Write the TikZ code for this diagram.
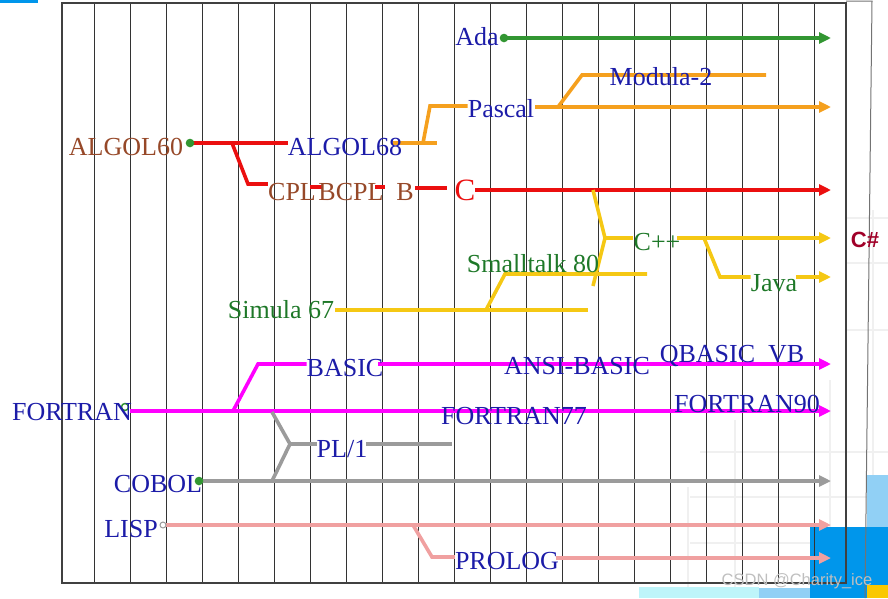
\documentclass[tikz,border=0pt]{standalone}
\usepackage{fontspec}
\setmainfont{Liberation Serif}
\newfontfamily\sansfnt{Liberation Sans}
\usetikzlibrary{arrows.meta}
\pgfdeclarelayer{deco}
\pgfdeclarelayer{lines}
\pgfsetlayers{deco,lines,main}
\definecolor{tblue}{RGB}{28,28,168}
\definecolor{tbrown}{RGB}{150,72,40}
\definecolor{tgreen}{RGB}{30,120,40}
\definecolor{lgreen}{RGB}{50,150,50}
\definecolor{lorange}{RGB}{245,160,30}
\definecolor{lred}{RGB}{235,15,15}
\definecolor{lyellow}{RGB}{245,200,20}
\definecolor{lmagenta}{RGB}{255,0,255}
\definecolor{lgrey}{RGB}{155,155,155}
\definecolor{lpink}{RGB}{240,160,160}
\definecolor{csharp}{RGB}{160,0,40}
\definecolor{bgA}{RGB}{0,150,235}
\definecolor{bgB}{RGB}{145,208,245}
\definecolor{bgC}{RGB}{190,245,250}
\definecolor{bgY}{RGB}{250,200,0}
\begin{document}
\begin{tikzpicture}[x=1pt,y=-1pt,
  lbl/.style={inner sep=0pt, anchor=base, font=\fontsize{26}{30}\selectfont},
  ln/.style={line width=3.6pt},
  arr/.style={ln, -{Triangle[length=12pt,width=11pt]}},
  ring/.style={line width=1.5pt, fill=white},
  faint/.style={gray!12, line width=2pt}]
\useasboundingbox (0,0) rectangle (888,598);
% background decoration
\begin{pgfonlayer}{deco}
\fill[bgA] (0,0) rectangle (38,3);
\draw[faint] (688,487) -- (688,598);
\draw[faint] (735,420) -- (735,598);
\draw[faint] (830,380) -- (830,598);
\draw[faint] (873,210) -- (873,598);
\draw[faint] (700,452) -- (888,452);
\draw[faint] (690,497) -- (888,497);
\draw[faint] (690,543) -- (888,543);
\draw[faint] (846,218) -- (888,218);
\draw[faint] (846,263) -- (888,263);
\draw[faint] (846,330) -- (888,330);
\fill[bgA] (810,527) rectangle (888,598);
\fill[bgB] (867,475) rectangle (888,527);
\fill[bgC] (639,587) rectangle (759,598);
\fill[bgB] (759,588) rectangle (810,598);
\fill[bgY] (867,585) rectangle (888,598);
% frame and grid
\foreach \x in {94,130,...,814} \draw[black!80, line width=0.9pt] (\x,3) -- (\x,583);
\draw[black!75, line width=1.2pt] (62,3) rectangle (846,583);
\draw[black!55, line width=1pt] (846,1) -- (872,1) -- (865,598);
\end{pgfonlayer}

% labels
\node[lbl,tblue] (ada) at (477,45) {Ada};
\node[lbl,tblue] (mod) at (661,85) {Modula-2};
\node[lbl,tblue] (pas) at (501,117) {Pascal};
\node[lbl,tbrown] (a60) at (126,155) {ALGOL60};
\node[lbl,tblue] (a68) at (345,155) {ALGOL68};
\node[lbl,tbrown] (cpl) at (292,200) {CPL};
\node[lbl,tbrown] (bcpl) at (351,200) {BCPL};
\node[lbl,tbrown] (bb) at (405,200) {B};
\node[lbl,lred,font=\fontsize{31}{34}\selectfont] (cc) at (465,200) {C};
\node[lbl,tgreen] (st) at (533,272) {Smalltalk 80};
\node[lbl,tgreen] (cpp) at (657,250) {C++};
\node[lbl,tgreen] (java) at (774,291) {Java};
\node[lbl,csharp,font=\sansfnt\bfseries\fontsize{22}{24}\selectfont] (cs) at (865,247) {C\#};
\node[lbl,tgreen] (sim) at (281,318) {Simula 67};
\node[lbl,tblue] (basic) at (345,376) {BASIC};
\node[lbl,tblue] (ansi) at (577,374) {ANSI-BASIC};
\node[lbl,tblue] (qb) at (732,362) {QBASIC~~VB};
\node[lbl,tblue] (fort) at (72,420) {FORTRAN};
\node[lbl,tblue] (f77) at (514,424) {FORTRAN77};
\node[lbl,tblue] (f90) at (747,412) {FORTRAN90};
\node[lbl,tblue] (pl1) at (342,457) {PL/1};
\node[lbl,tblue] (cobol) at (158,492) {COBOL};
\node[lbl,tblue] (lisp) at (131,537) {LISP};
\node[lbl,tblue] (prolog) at (507,569) {PROLOG};
\node[inner sep=0pt, anchor=base, text=gray!50, font=\sansfnt\fontsize{16.5}{18}\selectfont] (wm) at (797,585) {CSDN @Charity\_ice};

\begin{pgfonlayer}{lines}
% Ada
\coordinate (adaS) at (504,38); \coordinate (adaE) at (831,38);
\draw[arr,lgreen] (adaS) -- (adaE);
\draw[ring,lgreen] (adaS) circle (3.5);

% ALGOL family (red)
\coordinate (a60S) at (190,143); \coordinate (rj) at (232,143); \coordinate (rk) at (248,184);
\draw[ln,lred] (a60S) -- (a68.west |- a60S);
\draw[ln,lred] (rj) -- (rk) -- (cpl.west |- rk);
\coordinate (r1a) at (310,187); \coordinate (r1b) at (323,187);
\coordinate (r2a) at (375,187); \coordinate (r2b) at (385,187);
\coordinate (r3a) at (415,188); \coordinate (r3b) at (447,188);
\draw[ln,lred] (r1a) -- (r1b);
\draw[ln,lred] (r2a) -- (r2b);
\draw[ln,lred] (r3a) -- (r3b);
\coordinate (cS) at (475,190); \coordinate (cE) at (831,190);
\draw[arr,lred] (cS) -- (cE);
\draw[ring,lgreen] (a60S) circle (3.5);

% Pascal / Modula-2 (orange)
\coordinate (o1) at (393,143); \coordinate (o2) at (437,143);
\coordinate (oj) at (423,143); \coordinate (ok) at (430,106);
\draw[ln,lorange] (o1) -- (o2);
\draw[ln,lorange] (oj) -- (ok) -- (pas.west |- ok);
\coordinate (pS) at (535,107); \coordinate (pE) at (831,107);
\draw[arr,lorange] (pS) -- (pE);
\coordinate (mj) at (558,107); \coordinate (mk) at (582,75); \coordinate (mE) at (766,75);
\draw[ln,lorange] (mj) -- (mk) -- (mE);

% Simula / Smalltalk / C++ / Java (yellow)
\coordinate (simS) at (335,310); \coordinate (simE) at (588,310);
\draw[ln,lyellow] (simS) -- (simE);
\coordinate (sj) at (486,310); \coordinate (sk) at (505,274); \coordinate (sE) at (647,274);
\draw[ln,lyellow] (sj) -- (sk) -- (sE);
\coordinate (y1) at (593,190); \coordinate (yj) at (605,238); \coordinate (y2) at (593,286);
\draw[ln,lyellow] (y1) -- (yj) -- (y2);
\draw[ln,lyellow] (yj) -- (cpp.west |- yj);
\coordinate (cppS) at (677,238); \coordinate (cppE) at (831,238);
\draw[arr,lyellow] (cppS) -- (cppE);
\coordinate (jj) at (704,238); \coordinate (jk) at (720,277);
\draw[ln,lyellow] (jj) -- (jk) -- (java.west |- jk);
\coordinate (jS) at (796,277); \coordinate (jE) at (831,277);
\draw[arr,lyellow] (jS) -- (jE);

% FORTRAN / BASIC (magenta)
\coordinate (fS) at (130,411); \coordinate (fE) at (831,411);
\draw[lgreen,line width=1.5pt] (125,407) circle (3.5);
\draw[arr,lmagenta] (fS) -- (fE);
\coordinate (bj) at (233,411); \coordinate (bk) at (258,364);
\draw[ln,lmagenta] (bj) -- (bk) -- (basic.west |- bk);
\coordinate (bS) at (378,364); \coordinate (bE) at (831,364);
\draw[arr,lmagenta] (bS) -- (bE);

% PL/1 and COBOL (grey)
\coordinate (cobS) at (199,481); \coordinate (cobE) at (831,481);
\draw[arr,lgrey] (cobS) -- (cobE);
\draw[ring,lgreen] (cobS) circle (3.5);
\coordinate (g1) at (272,412); \coordinate (gj) at (290,444); \coordinate (g2) at (272,481);
\draw[ln,lgrey] (g1) -- (gj) -- (g2);
\draw[ln,lgrey] (gj) -- (pl1.west |- gj);
\coordinate (plS) at (366,444); \coordinate (plE) at (452,444);
\draw[ln,lgrey] (plS) -- (plE);

% LISP / PROLOG (pink)
\coordinate (lS) at (163,525); \coordinate (lE) at (831,525);
\draw[arr,lpink] (lS) -- (lE);
\draw[lgrey,line width=1pt,fill=white] (lS) circle (3);
\coordinate (lj) at (413,525); \coordinate (lk) at (432,557);
\draw[ln,lpink] (lj) -- (lk) -- (prolog.west |- lk);
\coordinate (prS) at (556,558); \coordinate (prE) at (831,558);
\draw[arr,lpink] (prS) -- (prE);
\end{pgfonlayer}
\end{tikzpicture}
\end{document}
